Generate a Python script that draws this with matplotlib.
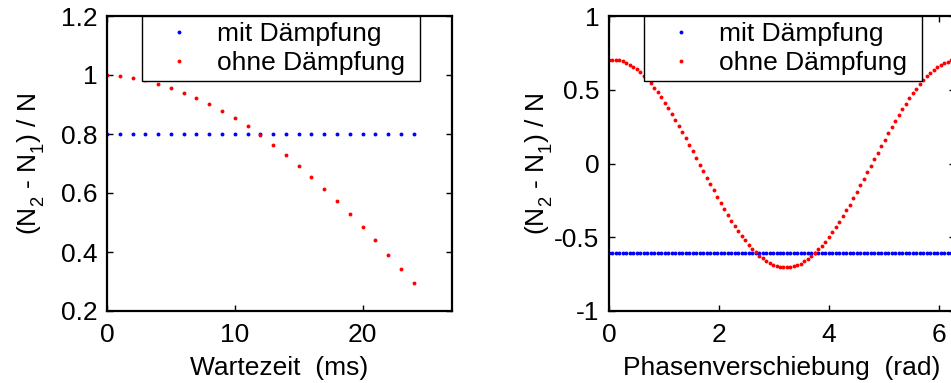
import numpy as np
import matplotlib
matplotlib.use("Agg")
import matplotlib.pyplot as plt
import matplotlib._mathtext as mt

plt.rcParams['font.family'] = ['Liberation Sans', 'DejaVu Sans']
plt.rcParams['mathtext.fontset'] = 'custom'
plt.rcParams['mathtext.rm'] = 'Liberation Sans'
plt.rcParams['mathtext.it'] = 'Liberation Sans'
# MATLAB puts subscripts a bit lower than mathtext does
mt.FontConstantsBase.sub1 = 0.6
mt.FontConstantsBase.sub2 = 0.8

# --- data ---
# left: waiting time (ms)
wartezeit = list(range(25))
mit_wartezeit = [0.8] * 25
ohne_wartezeit = [1.000, 0.998, 0.990, 0.982, 0.970, 0.957, 0.940, 0.923, 0.901,
                  0.879, 0.854, 0.827, 0.797, 0.764, 0.729, 0.693, 0.655, 0.615,
                  0.573, 0.529, 0.485, 0.439, 0.391, 0.344, 0.294]

# right: phase shift (rad), 100 samples over 0..2pi
phase = np.linspace(0, 2 * np.pi, 100)
mit_phase = [-0.61] * 100
ohne_phase = [0.703, 0.705, 0.704, 0.700, 0.693, 0.684, 0.671, 0.656, 0.639, 0.618,
              0.596, 0.570, 0.543, 0.513, 0.482, 0.448, 0.413, 0.376, 0.337, 0.298,
              0.257, 0.215, 0.171, 0.127, 0.083, 0.038, -0.007, -0.051, -0.096, -0.140,
              -0.183, -0.226, -0.268, -0.309, -0.348, -0.387, -0.423, -0.458, -0.491, -0.522,
              -0.551, -0.578, -0.602, -0.625, -0.644, -0.661, -0.675, -0.687, -0.695, -0.701,
              -0.705, -0.705, -0.702, -0.697, -0.689, -0.678, -0.664, -0.648, -0.629, -0.607,
              -0.583, -0.557, -0.529, -0.498, -0.465, -0.431, -0.395, -0.357, -0.318, -0.278,
              -0.236, -0.192, -0.149, -0.105, -0.060, -0.016, 0.029, 0.074, 0.118, 0.162,
              0.205, 0.247, 0.289, 0.329, 0.368, 0.405, 0.441, 0.475, 0.507, 0.537,
              0.565, 0.591, 0.614, 0.635, 0.653, 0.668, 0.681, 0.691, 0.699, 0.703]

labels = ['mit Dämpfung', 'ohne Dämpfung']
ylab = '(N$_2$ - N$_1$) / N'
fs = 19

fig = plt.figure(figsize=(9.51, 3.83), dpi=100)
W, H = 951.0, 383.0
ax1 = fig.add_axes([107 / W, (H - 311) / H, 345 / W, 295 / H])
ax2 = fig.add_axes([609 / W, (H - 311) / H, 345.5 / W, 295 / H])


def style(ax):
    for s in ax.spines.values():
        s.set_linewidth(1.6)
    ax.tick_params(direction='in', top=True, right=True, length=4, width=1.0,
                   labelsize=fs, pad=7)
    ax.tick_params(axis='x', pad=9)


dot = dict(linestyle='none', marker='o', markersize=2.8, markeredgewidth=0)

ax1.plot(wartezeit, mit_wartezeit, color=(0, 0, 1), label=labels[0], **dot)
ax1.plot(wartezeit, ohne_wartezeit, color=(1, 0, 0), label=labels[1], **dot)
ax1.set_xlim(0, 27)
ax1.set_ylim(0.2, 1.2)
ax1.set_xticks([0, 10, 20])
ax1.set_yticks([0.2, 0.4, 0.6, 0.8, 1.0, 1.2])
ax1.set_yticklabels(['0.2', '0.4', '0.6', '0.8', '1', '1.2'])
ax1.set_xlabel('Wartezeit  (ms)', fontsize=fs, labelpad=6)
ax1.set_ylabel(ylab, fontsize=fs)
ax1.yaxis.set_label_coords((47 - 107) / 345.0, 0.5)
style(ax1)

ax2.plot(phase, mit_phase, color=(0, 0, 1), label=labels[0], **dot)
ax2.plot(phase, ohne_phase, color=(1, 0, 0), label=labels[1], **dot)
ax2.set_xlim(0, 2 * np.pi)
ax2.set_ylim(-1, 1)
ax2.set_xticks([0, 2, 4, 6])
ax2.set_yticks([-1, -0.5, 0, 0.5, 1])
ax2.set_yticklabels(['-1', '-0.5', '0', '0.5', '1'])
ax2.set_xlabel('Phasenverschiebung  (rad)', fontsize=fs, labelpad=6)
ax2.set_ylabel(ylab, fontsize=fs)
ax2.yaxis.set_label_coords((555 - 609) / 345.5, 0.5)
style(ax2)

# legend box: spans about 0.10..0.906 of the axes width, flush with the top
for ax in (ax1, ax2):
    leg = ax.legend(loc='upper left', bbox_to_anchor=(0.1014, 0.0, 0.805, 1.0),
                    mode='expand', borderaxespad=0, fontsize=fs,
                    handlelength=2.36, handletextpad=0.26, borderpad=0.22,
                    labelspacing=0.2, fancybox=False, framealpha=1,
                    edgecolor='black', markerscale=1.0)
    leg.get_frame().set_linewidth(1.0)

fig.savefig('out.png', dpi=100)
